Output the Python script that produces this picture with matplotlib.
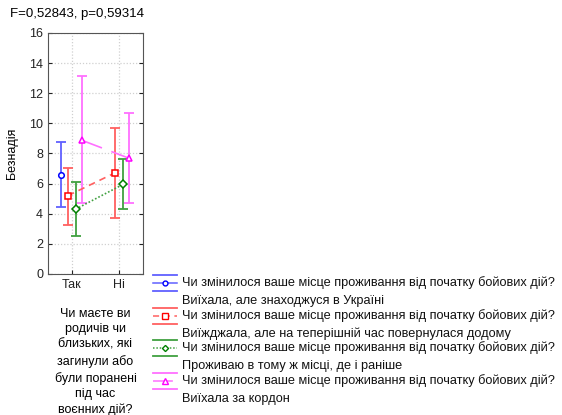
import matplotlib
matplotlib.use('Agg')
from matplotlib import pyplot as plt
from matplotlib.lines import Line2D

plt.rcParams['font.family'] = ['Liberation Sans', 'DejaVu Sans']

categories = ['Так', 'Ні']
groups = [
    'Чи змінилося ваше місце проживання від початку бойових дій?\nВиїхала, але знаходжуся в Україні',
    'Чи змінилося ваше місце проживання від початку бойових дій?\nВиїжджала, але на теперішній час повернулася додому',
    'Чи змінилося ваше місце проживання від початку бойових дій?\nПроживаю в тому ж місці, де і раніше',
    'Чи змінилося ваше місце проживання від початку бойових дій?\nВиїхала за кордон',
]
# means and confidence limits per group: [Так, Ні]  (None = no data)
means = [
    [6.57, None],
    [5.20, 6.73],
    [4.30, 5.95],
    [8.88, 7.68],
]
lower = [
    [4.47, None],
    [3.25, 3.70],
    [2.52, 4.30],
    [4.69, 4.69],
]
upper = [
    [8.75, None],
    [7.02, 9.67],
    [6.13, 7.62],
    [13.15, 10.71],
]

line_colors = ['#0000ff', '#ff0000', '#008000', '#ff00ff']
bar_colors = ['#6060ff', '#ff6060', '#40a040', '#ff70ff']
markers = ['o', 's', 'D', '^']
msizes = [4, 5, 3.6, 5]
styles = ['-', (0, (4, 3)), (0, (1, 1.2)), (0, (13, 6))]
offsets = [-0.22, -0.08, 0.08, 0.21]

fig = plt.figure(figsize=(5.62, 4.15), dpi=100)
ax = fig.add_axes([48 / 562, 1 - 274 / 415, 95 / 562, 241 / 415])

for i in range(len(groups)):
    xs, ys, lo, hi = [], [], [], []
    for j in range(len(categories)):
        if means[i][j] is None:
            continue
        xs.append(j + offsets[i])
        ys.append(means[i][j])
        lo.append(means[i][j] - lower[i][j])
        hi.append(upper[i][j] - means[i][j])
    ax.errorbar(xs, ys, yerr=[lo, hi], fmt='none', ecolor=bar_colors[i],
                elinewidth=1.3, capsize=3.5, capthick=1.3, zorder=2)
    ax.plot(xs, ys, color=bar_colors[i], linestyle=styles[i], linewidth=1.2, zorder=3)
    ax.plot(xs, ys, linestyle='none', marker=markers[i], markersize=msizes[i],
            markerfacecolor='white', markeredgecolor=line_colors[i],
            markeredgewidth=1.1, zorder=4)

ax.set_xlim(-0.5, 1.5)
ax.set_ylim(0, 16)
ax.set_yticks(range(0, 17, 2))
ax.set_xticks(range(len(categories)))
ax.set_xticklabels(categories)
ax.grid(True, color='#d0d0d0', linestyle=(0, (1, 1.5)), linewidth=0.9)
ax.set_axisbelow(True)
ax.tick_params(direction='in', right=True, length=3, labelsize=9, colors='#222222')
for s in ax.spines.values():
    s.set_color('#555555')

ax.set_ylabel('Безнадія', fontsize=9, labelpad=8)
ax.set_xlabel('Чи маєте ви\nродичів чи\nблизьких, які\nзагинули або\nбули поранені\nпід час\nвоєнних дій?',
              fontsize=9, linespacing=1.4, labelpad=12)
fig.text(10 / 562, 1 - 14 / 415, 'F=0,52843, p=0,59314', fontsize=9.5,
         va='center', ha='left')

# legend drawn by hand so the symbol sits on the first text line
for i, label in enumerate(groups):
    yc = 283 + 32.6 * i
    for dy in (-8, 8):
        fig.add_artist(Line2D([153 / 562, 177 / 562], [1 - (yc + dy) / 415] * 2,
                              color=bar_colors[i], linewidth=1.3))
    fig.add_artist(Line2D([153 / 562, 177 / 562], [1 - yc / 415] * 2,
                          color=bar_colors[i], linestyle=styles[i], linewidth=1.1))
    fig.add_artist(Line2D([165 / 562], [1 - yc / 415], linestyle='none',
                          marker=markers[i], markersize=msizes[i] - 0.5,
                          markerfacecolor='white', markeredgecolor=line_colors[i]))
    fig.text(182 / 562, 1 - (yc - 7) / 415, label, fontsize=9.2, va='top',
             ha='left', linespacing=1.68, color='#111111')

fig.savefig('out.png', dpi=100)
